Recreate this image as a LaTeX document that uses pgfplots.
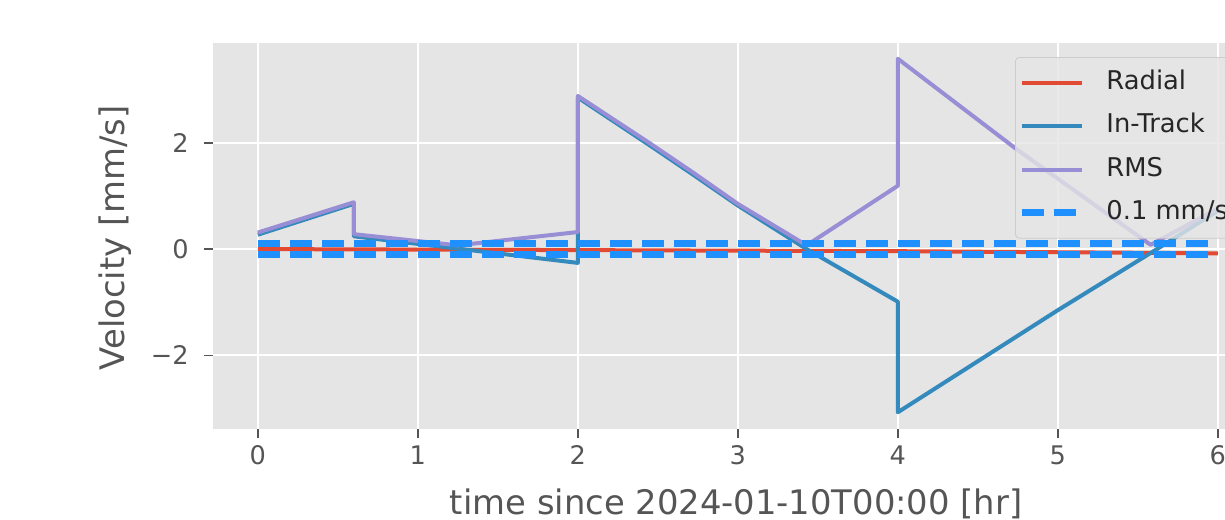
\documentclass[border=0pt]{standalone}
\usepackage{fontspec}
\setmainfont{DejaVu Sans}
\usepackage{pgfplots}
\pgfplotsset{compat=1.18}
\definecolor{bg}{HTML}{E5E5E5}
\definecolor{cRad}{HTML}{E24A33}
\definecolor{cIn}{HTML}{348ABD}
\definecolor{cRms}{HTML}{988ED5}
\definecolor{cDash}{HTML}{1E90FF}
\definecolor{tk}{HTML}{555555}
\begin{document}
\begin{tikzpicture}
\useasboundingbox (0,0) rectangle (612.5bp,260bp);
\clip (0,0) rectangle (612.5bp,260bp);
\begin{axis}[
  at={(106.5bp,45.35bp)}, anchor=south west,
  scale only axis, width=526.4bp, height=193bp,
  xmin=-0.28, xmax=6.3, ymin=-3.39, ymax=3.87,
  axis background/.style={fill=bg},
  axis line style={draw=none},
  grid=major, major grid style={white, line width=1bp},
  xtick={0,1,2,3,4,5,6}, ytick={-2,0,2}, yticklabels={−2,0,2},
  tick pos=left, tick align=outside, major tick length=4.5bp,
  tick style={tk, line width=0.8bp},
  /pgf/number format/assume math mode=true,
  ticklabel style={font=\fontsize{12.8bp}{15bp}\selectfont, text=tk},
  xticklabel style={anchor=base, yshift=-13bp},
  yticklabel style={xshift=-4.2bp},
  xlabel={time since 2024-01-10T00:00 [hr]},
  ylabel={Velocity [mm/s]},
  label style={font=\fontsize{16.9bp}{20bp}\selectfont, text=tk},
  xlabel style={at={(axis description cs:0.497,-0.222)}, anchor=base},
  ylabel style={at={(axis description cs:-0.0931,0.4956)}, anchor=center},
  legend style={at={(0.7618,0.9645)}, anchor=north west, fill=bg, fill opacity=0.8,
    draw opacity=1, text opacity=1, draw=black!20, rounded corners=2bp,
    font=\fontsize{12.9bp}{15bp}\selectfont, text=black!85,
    inner xsep=1.5bp, inner ysep=6.5bp, row sep=9.4bp,
    nodes={inner xsep=0pt, inner ysep=0pt, text height=9.5bp, text depth=2.8bp}},
  legend image code/.code={\draw[#1] (0bp,0bp) -- (30bp,0bp); \path (40.5bp,0bp);},
  legend cell align=left,
]
\addplot[cRad, line width=2bp, line join=round] coordinates {
  (0,0.0) (2,-0.02) (4,-0.04) (6,-0.08)};
\addlegendentry{Radial}
\addplot[cIn, line width=2bp, line join=round] coordinates {
  (0,0.27) (0.6,0.85) (0.6,0.24) (2,-0.26) (2,2.85) (2.45,1.95) (2.72,1.40)
  (3.0,0.82) (3.43,0.0) (4,-0.99) (4,-3.07) (5,-1.15) (5.62,0.0) (6,0.72)};
\addlegendentry{In-Track}
\addplot[cRms, line width=2bp, line join=round] coordinates {
  (0,0.31) (0.6,0.88) (0.6,0.28) (1.25,0.07) (2,0.32) (2,2.88) (2.45,1.99)
  (2.72,1.44) (3.0,0.85) (3.43,0.07) (4,1.19) (4,3.58) (4.75,1.86) (5.58,0.08) (6,0.76)};
\addlegendentry{RMS}
\addplot[cDash, line width=3.5bp, dash pattern=on 11bp off 5bp] coordinates {(0,0.1) (6,0.1)};
\addlegendentry{0.1 mm/s}
\addplot[cDash, line width=3.5bp, dash pattern=on 11bp off 5bp, forget plot] coordinates {(0,-0.1) (6,-0.1)};
\end{axis}
\end{tikzpicture}
\end{document}
